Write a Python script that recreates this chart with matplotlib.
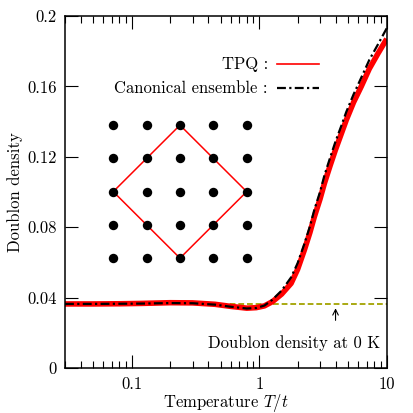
import numpy as np
import matplotlib
matplotlib.use("Agg")
import matplotlib.pyplot as plt
from matplotlib.ticker import FixedLocator, FixedFormatter, NullFormatter
from matplotlib.lines import Line2D

plt.rcParams['font.family'] = 'serif'
plt.rcParams['font.serif'] = ['cmr10', 'DejaVu Serif']
plt.rcParams['mathtext.fontset'] = 'cm'
plt.rcParams['axes.formatter.use_mathtext'] = True

# ---- data ----
temps = [0.03, 0.05, 0.08, 0.12, 0.2, 0.3, 0.45, 0.6, 0.8, 0.95, 1.1, 1.27,
         1.5, 1.78, 2.0, 2.26, 2.5, 2.71, 3.0, 3.25, 3.6, 3.96, 4.4, 4.82,
         5.5, 6.32, 7.3, 8.56, 10.0]
tpq = [0.0364, 0.0364, 0.0365, 0.0367, 0.0371, 0.0370, 0.0362, 0.0350,
       0.0340, 0.0343, 0.0353, 0.0377, 0.0420, 0.0481, 0.0560, 0.0670,
       0.0770, 0.0860, 0.0960, 0.1050, 0.1150, 0.1239, 0.1330, 0.1409,
       0.1510, 0.1600, 0.1700, 0.1788, 0.1870]
canonical = [0.0364, 0.0364, 0.0365, 0.0366, 0.0369, 0.0368, 0.0360, 0.0348,
             0.0338, 0.0341, 0.0355, 0.0388, 0.0440, 0.0515, 0.0595, 0.0705,
             0.0805, 0.0900, 0.1000, 0.1095, 0.1195, 0.1285, 0.1375, 0.1455,
             0.1555, 0.1650, 0.1750, 0.1840, 0.1930]
ground_state = 0.0362
x_major = [0.1, 1, 10]
x_major_labels = ['0.1', '1', '10']
y_major = [0, 0.04, 0.08, 0.12, 0.16, 0.2]
y_major_labels = ['0', '0.04', '0.08', '0.12', '0.16', '0.2']
lattice_n = 5
diamond_path = [(0, 2), (2, 0), (4, 2), (2, 4), (0, 2)]  # (col, row) lattice indices

FS = 12

fig = plt.figure(figsize=(4.13, 4.13), dpi=100)
ax = fig.add_axes([65/413, (413-368)/413, (386.7-65)/413, (368-16)/413])

ax.set_xscale('log')
ax.set_xlim(0.03, 10)
ax.set_ylim(0, 0.2)

ax.axhline(ground_state, color='#a3a300', lw=1.3, dashes=(3.2, 1.6), zorder=1)
ax.plot(temps, tpq, color='#ff0000', lw=4.0, solid_capstyle='butt', zorder=2)
ax.plot(temps, canonical, color='black', lw=1.6, dashes=(4, 1.5, 1, 1.5), zorder=3)

# ticks
ax.xaxis.set_major_locator(FixedLocator(x_major))
ax.xaxis.set_major_formatter(FixedFormatter(x_major_labels))
minor = [m * 10**e for e in (-2, -1, 0) for m in range(2, 10)]
ax.xaxis.set_minor_locator(FixedLocator([v for v in minor if 0.03 <= v <= 10]))
ax.xaxis.set_minor_formatter(NullFormatter())
ax.yaxis.set_major_locator(FixedLocator(y_major))
ax.yaxis.set_major_formatter(FixedFormatter(y_major_labels))
ax.tick_params(which='both', direction='in', top=True, right=True, width=0.8, labelsize=FS)
ax.tick_params(which='major', length=9.5)
ax.tick_params(which='minor', length=4.8)
ax.tick_params(axis='x', which='major', pad=6.5)
ax.tick_params(axis='y', which='major', pad=6)
for s in ax.spines.values():
    s.set_linewidth(1.1)

ax.set_ylabel('Doublon density', fontsize=FS, labelpad=3)
fig.text(225.8/413, (413-406.5)/413, 'Temperature $T/t$', fontsize=FS,
         ha='center', va='baseline')

# legend (gnuplot-style, text then sample)
ax.text(0.631, 0.864, 'TPQ :', transform=ax.transAxes, ha='right', va='center', fontsize=FS)
ax.add_line(Line2D([0.659, 0.790], [0.864, 0.864], transform=ax.transAxes, color='#ff0000', lw=1.2))
ax.text(0.631, 0.795, 'Canonical ensemble :', transform=ax.transAxes, ha='right', va='center', fontsize=FS)
ax.add_line(Line2D([0.659, 0.790], [0.795, 0.795], transform=ax.transAxes, color='black', lw=1.6,
                   dashes=(4, 1.5, 1, 1.5)))

# inset lattice
x0, dx = 0.150, 0.1037
y0, dy = 0.690, -0.0945
cols, rows = np.meshgrid(np.arange(lattice_n), np.arange(lattice_n))
ax.scatter(x0 + dx * cols.ravel(), y0 + dy * rows.ravel(), s=46, color='black',
           transform=ax.transAxes, zorder=5, linewidths=0)
dxs = [x0 + dx * c for c, r in diamond_path]
dys = [y0 + dy * r for c, r in diamond_path]
ax.add_line(Line2D(dxs, dys, transform=ax.transAxes, color='#ff0000', lw=1.1, zorder=4))

# annotation
ax.annotate('', xy=(3.97, 0.0355), xytext=(3.97, 0.0255),
            arrowprops=dict(arrowstyle='->', color='black', lw=0.8))
ax.text(1.87, 0.0142, 'Doublon density at 0 K', ha='center', va='center', fontsize=FS)

fig.savefig('out.png', dpi=100)
